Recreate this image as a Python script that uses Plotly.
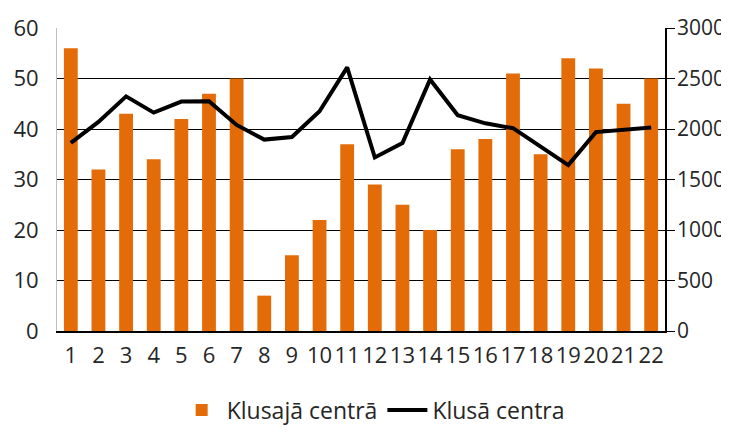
import plotly.graph_objects as go

categories = [str(i) for i in range(1, 23)]
bar_values = [56, 32, 43, 34, 42, 47, 50, 7, 15, 22, 37, 29, 25, 20, 36, 38, 51, 35, 54, 52, 45, 50]
line_values = [1862, 2070, 2323, 2162, 2272, 2275, 2040, 1895, 1921, 2175, 2610, 1718,
               1862, 2491, 2136, 2056, 2008, 1830, 1643, 1969, 1988, 2014]
bar_name = "Klusajā centrā"
line_name = "Klusā centra"

FONT = "Open Sans"
FS = 22
fig = go.Figure()
fig.add_trace(go.Bar(x=categories, y=bar_values, name=bar_name,
                     marker=dict(color="#E36C09", line=dict(width=0)), yaxis="y"))
fig.add_trace(go.Scatter(x=categories, y=line_values, name=line_name, mode="lines",
                         line=dict(color="black", width=4), yaxis="y2"))

fig.update_layout(
    width=729, height=436,
    margin=dict(l=49, r=72, t=20, b=105),
    paper_bgcolor="white", plot_bgcolor="white",
    font=dict(family=FONT, size=FS, color="#262626"),
    bargap=0.5,
    showlegend=True,
    legend=dict(orientation="h", x=0.52, xanchor="center", y=-0.19, yanchor="top",
                font=dict(family=FONT, size=23, color="#262626"), traceorder="normal",
                itemwidth=40),
    xaxis=dict(type="category", showgrid=False, showline=True, linecolor="black", linewidth=1.5,
               ticks="", tickfont=dict(size=FS), ticklabelstandoff=4, automargin=False),
    yaxis=dict(range=[0, 60], dtick=10, showgrid=True, gridcolor="black", gridwidth=1.2,
               showline=True, linecolor="#BFBFBF", linewidth=1, ticks="", zeroline=False,
               tickfont=dict(size=FS), ticklabelstandoff=13, automargin=False),
    yaxis2=dict(range=[0, 3000], dtick=500, overlaying="y", side="right", showgrid=False,
                showline=True, linecolor="black", linewidth=1.5, ticks="outside", ticklen=8,
                tickcolor="black", zeroline=False, tickfont=dict(size=21),
                ticklabelstandoff=-2, automargin=False),
)

fig.write_html("out.html")
